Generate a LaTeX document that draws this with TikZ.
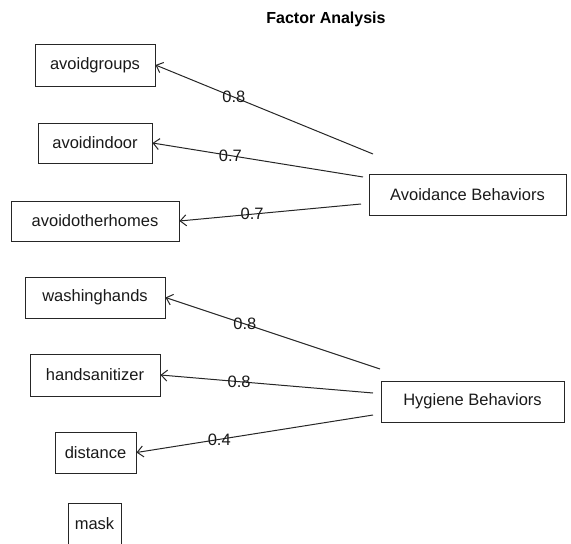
\documentclass[tikz,border=0pt]{standalone}
\usepackage{fontspec}
\setmainfont{Liberation Sans}
\usetikzlibrary{arrows.meta}
\begin{document}
\begin{tikzpicture}[x=1pt,y=-1pt,
  var/.style={draw=black!85, line width=1pt, rectangle, inner sep=0pt, font=\fontsize{16.5}{19}\selectfont, text=black!90},
  load/.style={draw=black!85, line width=1pt, -{Straight Barb[length=6pt,width=11pt,line width=1pt]}},
  lbl/.style={font=\fontsize{16.5}{19}\selectfont, text=black!90, inner sep=0pt}]
\useasboundingbox (0,0) rectangle (571,544);
\node[font=\bfseries\fontsize{16}{19}\selectfont] (title) at (326,19) {Factor Analysis};
\node[var, minimum width=120pt, minimum height=42pt] (ag) at (95,65) {avoidgroups};
\node[var, minimum width=114pt, minimum height=40pt] (ai) at (95,143) {avoidindoor};
\node[var, minimum width=168pt, minimum height=40pt] (ao) at (95,221) {avoidotherhomes};
\node[var, minimum width=197pt, minimum height=41pt] (AB) at (467.5,194.5) {Avoidance Behaviors};
\node[var, minimum width=140pt, minimum height=41pt] (wh) at (95,297.5) {washinghands};
\node[var, minimum width=130pt, minimum height=42pt] (hs) at (95,375) {handsanitizer};
\node[var, minimum width=81pt, minimum height=41pt] (di) at (95.5,452.5) {distance};
\node[var, minimum width=53pt, minimum height=41pt] (ma) at (94.5,523.5) {mask};
\node[var, minimum width=183pt, minimum height=41pt] (HB) at (472.5,401.5) {Hygiene Behaviors};
\coordinate (a1) at (373,154);
\coordinate (a2) at (363,177);
\coordinate (a3) at (361,204);
\coordinate (h1) at (380,369);
\coordinate (h2) at (373,393);
\coordinate (h3) at (373,415);
\draw[load] (a1) -- node[lbl, pos=0.64] (l1) {0.8} (ag.east);
\draw[load] (a2) -- node[lbl, pos=0.63] (l2) {0.7} (ai.east);
\draw[load] (a3) -- node[lbl, pos=0.60] (l3) {0.7} (ao.east);
\draw[load] (h1) -- node[lbl, pos=0.63] (l4) {0.8} (wh.east);
\draw[load] (h2) -- node[lbl, pos=0.63] (l5) {0.8} (hs.east);
\draw[load] (h3) -- node[lbl, pos=0.65] (l6) {0.4} (di.east);
\end{tikzpicture}
\end{document}
